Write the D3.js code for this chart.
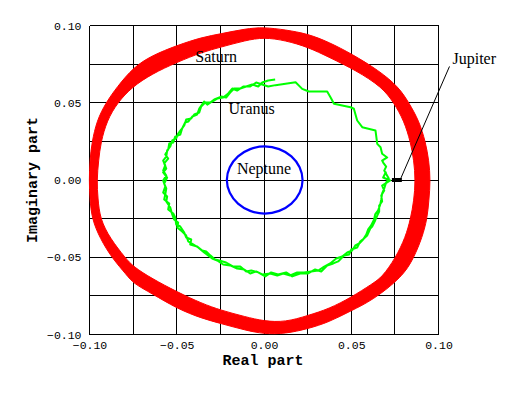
<!DOCTYPE html>
<html><head><meta charset="utf-8">
<script src="https://cdn.jsdelivr.net/npm/d3@7/dist/d3.min.js"></script>
<style>body{margin:0;background:#fff}</style>
</head><body>
<svg id="chart" width="518" height="393"></svg>
<script>
// ---------- data ----------
const xTickValues = [-0.10, -0.05, 0.00, 0.05, 0.10];
const yTickValues = [-0.10, -0.05, 0.00, 0.05, 0.10];
const gridValues = [-0.1, -0.075, -0.05, -0.025, 0, 0.025, 0.05, 0.075, 0.1];

// Saturn: thick band, outer and inner edge [re, im]
const saturnOuter = [
  [-0.1002,-0.0003],[-0.0998,0.0126],[-0.0986,0.0245],[-0.0958,0.0385],[-0.0906,0.0500],
  [-0.0843,0.0601],[-0.0748,0.0730],[-0.0642,0.0806],[-0.0499,0.0871],[-0.0356,0.0924],
  [-0.0247,0.0946],[-0.0108,0.0979],[0.0000,0.0989],[0.0123,0.0972],[0.0252,0.0946],
  [0.0372,0.0892],[0.0501,0.0817],[0.0658,0.0709],[0.0773,0.0601],[0.0830,0.0500],
  [0.0888,0.0385],[0.0926,0.0245],[0.0945,0.0126],[0.0954,-0.0003],[0.0945,-0.0133],
  [0.0935,-0.0251],[0.0907,-0.0370],[0.0859,-0.0504],[0.0792,-0.0629],[0.0620,-0.0780],
  [0.0501,-0.0845],[0.0372,-0.0920],[0.0252,-0.0963],[0.0123,-0.0995],[0.0000,-0.0997],
  [-0.0108,-0.0972],[-0.0247,-0.0929],[-0.0356,-0.0896],[-0.0499,-0.0832],[-0.0642,-0.0735],
  [-0.0748,-0.0670],[-0.0786,-0.0616],[-0.0872,-0.0504],[-0.0939,-0.0379],[-0.0986,-0.0254],
  [-0.0998,-0.0120]
];
const saturnInner = [
  [-0.0958,-0.0003],[-0.0948,0.0126],[-0.0935,0.0245],[-0.0900,0.0385],[-0.0840,0.0500],
  [-0.0757,0.0601],[-0.0642,0.0687],[-0.0499,0.0762],[-0.0356,0.0827],[-0.0247,0.0860],
  [-0.0108,0.0903],[0.0000,0.0924],[0.0123,0.0903],[0.0252,0.0860],[0.0372,0.0795],
  [0.0528,0.0709],[0.0677,0.0601],[0.0744,0.0500],[0.0802,0.0385],[0.0840,0.0245],
  [0.0859,0.0126],[0.0868,-0.0003],[0.0859,-0.0133],[0.0840,-0.0251],[0.0811,-0.0370],
  [0.0754,-0.0504],[0.0677,-0.0629],[0.0620,-0.0672],[0.0501,-0.0759],[0.0372,-0.0834],
  [0.0252,-0.0877],[0.0123,-0.0920],[0.0000,-0.0914],[-0.0108,-0.0885],[-0.0247,-0.0843],
  [-0.0356,-0.0799],[-0.0499,-0.0724],[-0.0642,-0.0638],[-0.0748,-0.0562],[-0.0795,-0.0504],
  [-0.0881,-0.0379],[-0.0939,-0.0254],[-0.0952,-0.0120]
];

// Uranus: wobbly path with retrograde loops [re, im]
const uranus = [
  [0.0064,0.0650],[0.0024,0.0644],[-0.0010,0.0631],[-0.0033,0.0605],[-0.0068,0.0618],
  [-0.0102,0.0605],[-0.0136,0.0592],[-0.0171,0.0592],[-0.0194,0.0566],[-0.0217,0.0534],
  [-0.0245,0.0540],[-0.0285,0.0521],[-0.0308,0.0501],[-0.0337,0.0501],[-0.0360,0.0476],
  [-0.0371,0.0437],[-0.0400,0.0424],[-0.0417,0.0398],[-0.0446,0.0391],[-0.0457,0.0353],
  [-0.0474,0.0327],[-0.0492,0.0301],[-0.0503,0.0269],[-0.0526,0.0256],[-0.0537,0.0217],
  [-0.0555,0.0191],[-0.0560,0.0152],[-0.0578,0.0126],[-0.0566,0.0094],[-0.0578,0.0061],
  [-0.0560,0.0029],[-0.0578,-0.0003],[-0.0566,-0.0042],[-0.0578,-0.0081],[-0.0555,-0.0107],
  [-0.0560,-0.0139],[-0.0537,-0.0178],[-0.0526,-0.0223],[-0.0515,-0.0256],[-0.0492,-0.0275],
  [-0.0497,-0.0307],[-0.0469,-0.0333],[-0.0446,-0.0359],[-0.0434,-0.0398],[-0.0406,-0.0417],
  [-0.0377,-0.0437],[-0.0343,-0.0469],[-0.0320,-0.0488],[-0.0297,-0.0508],[-0.0268,-0.0521],
  [-0.0234,-0.0547],[-0.0194,-0.0553],[-0.0154,-0.0573],[-0.0113,-0.0579],[-0.0079,-0.0605],
  [-0.0045,-0.0592],[-0.0010,-0.0611],[0.0036,-0.0605],[0.0076,-0.0618],[0.0110,-0.0605],
  [0.0150,-0.0618],[0.0190,-0.0598],[0.0230,-0.0598],[0.0270,-0.0592],[0.0311,-0.0586],
  [0.0345,-0.0560],[0.0379,-0.0540],[0.0414,-0.0508],[0.0448,-0.0495],[0.0477,-0.0469],
  [0.0505,-0.0456],[0.0523,-0.0424],[0.0546,-0.0411],[0.0568,-0.0385],[0.0586,-0.0353],
  [0.0597,-0.0320],[0.0614,-0.0294],[0.0631,-0.0256],[0.0637,-0.0223],[0.0654,-0.0197],
  [0.0666,-0.0159],[0.0672,-0.0126],[0.0677,-0.0087],[0.0689,-0.0055],[0.0700,-0.0016],
  [0.0715,0.0010],[0.0689,0.0061],[0.0700,0.0087],[0.0683,0.0113],[0.0677,0.0126],
  [0.0706,0.0146],[0.0677,0.0170],[0.0668,0.0212],[0.0649,0.0234],[0.0639,0.0320],
  [0.0563,0.0342],[0.0534,0.0385],[0.0515,0.0461],[0.0496,0.0471],[0.0401,0.0493],
  [0.0381,0.0536],[0.0362,0.0573],[0.0257,0.0573],[0.0219,0.0590],[0.0181,0.0633],
  [0.0066,0.0614],
  [0.0024,0.0605],[-0.0010,0.0618],[-0.0045,0.0631],[-0.0079,0.0605],[-0.0119,0.0605],
  [-0.0154,0.0579],[-0.0182,0.0592],[-0.0205,0.0560],[-0.0234,0.0534],[-0.0268,0.0527],
  [-0.0297,0.0508],[-0.0325,0.0488],[-0.0343,0.0508],[-0.0371,0.0463],[-0.0383,0.0424],
  [-0.0411,0.0411],[-0.0434,0.0378],[-0.0452,0.0372],[-0.0469,0.0333],[-0.0480,0.0294],
  [-0.0509,0.0281],[-0.0520,0.0243],[-0.0543,0.0236],[-0.0549,0.0197],[-0.0566,0.0165],
  [-0.0549,0.0139],[-0.0572,0.0107],[-0.0560,0.0074],[-0.0578,0.0049],[-0.0555,0.0016],
  [-0.0572,-0.0023],[-0.0560,-0.0055],[-0.0566,-0.0094],[-0.0572,-0.0126],[-0.0543,-0.0152],
  [-0.0549,-0.0191],[-0.0520,-0.0217],[-0.0509,-0.0243],[-0.0503,-0.0288],[-0.0480,-0.0301],
  [-0.0457,-0.0340],[-0.0446,-0.0372],[-0.0417,-0.0385],[-0.0423,-0.0417],[-0.0383,-0.0430],
  [-0.0354,-0.0456],[-0.0331,-0.0463],[-0.0308,-0.0488],[-0.0280,-0.0514],[-0.0257,-0.0521],
  [-0.0217,-0.0534],[-0.0176,-0.0560],[-0.0136,-0.0560],[-0.0102,-0.0592],[-0.0073,-0.0586],
  [-0.0033,-0.0598],[0.0007,-0.0624],[0.0041,-0.0598],[0.0081,-0.0611],[0.0127,-0.0598],
  [0.0162,-0.0624],[0.0207,-0.0605],[0.0253,-0.0605],[0.0293,-0.0579],[0.0328,-0.0592],
  [0.0362,-0.0553],[0.0397,-0.0540],[0.0425,-0.0527],[0.0460,-0.0488],[0.0488,-0.0482],
  [0.0500,-0.0450],[0.0534,-0.0437],[0.0551,-0.0398],[0.0574,-0.0378],[0.0591,-0.0359],
  [0.0609,-0.0314],[0.0620,-0.0301],[0.0637,-0.0262],[0.0649,-0.0230],[0.0660,-0.0204],
  [0.0660,-0.0165],[0.0677,-0.0139],[0.0672,-0.0100],[0.0689,-0.0068],[0.0677,-0.0036],
  [0.0723,-0.0003],[0.0683,0.0016],[0.0700,0.0055]
];

// Neptune: small closed loop [re, im]
const neptune = [
  [0.0221,0.0000],[0.0204,0.0083],[0.0157,0.0153],[0.0087,0.0200],[0.0004,0.0217],
  [-0.0079,0.0200],[-0.0149,0.0153],[-0.0196,0.0083],[-0.0213,0.0000],[-0.0196,-0.0083],
  [-0.0149,-0.0153],[-0.0079,-0.0200],[0.0004,-0.0217],[0.0087,-0.0200],[0.0157,-0.0153],
  [0.0204,-0.0083]
];

// Jupiter: tiny segment near the real axis, plus its label pointer
const jupiter = [[0.0733,0.0000],[0.0790,0.0000]];
const jupiterLeader = [[0.0781,0.0003],[0.1063,0.0735]];

const planetLabels = ["Saturn","Uranus","Neptune","Jupiter"];
const labelRe = [-0.0394,-0.0203,-0.0155,0.1080];
const labelIm = [0.0761,0.0426,0.0039,0.0754];

// ---------- drawing ----------
const svg = d3.select("#chart");
const x = d3.scaleLinear().domain([-0.1,0.1]).range([89.5,438.5]);
const y = d3.scaleLinear().domain([-0.1,0.1]).range([334.5,25.5]);
const fmt = d3.format(".2f");

// grid
const g = svg.append("g");
g.selectAll("line.v").data(gridValues).join("line")
  .attr("x1",d=>x(d)).attr("x2",d=>x(d)).attr("y1",y(-0.1)).attr("y2",y(0.1))
  .attr("stroke","#000").attr("stroke-width",1).attr("shape-rendering","crispEdges");
g.selectAll("line.h").data(gridValues).join("line")
  .attr("y1",d=>y(d)).attr("y2",d=>y(d)).attr("x1",x(-0.1)).attr("x2",x(0.1))
  .attr("stroke","#000").attr("stroke-width",1).attr("shape-rendering","crispEdges");

// tick labels via d3 axes (no tick marks)
const xAxis = d3.axisBottom(x).tickValues(xTickValues).tickFormat(fmt).tickSize(0).tickPadding(6);
const yAxis = d3.axisLeft(y).tickValues(yTickValues).tickFormat(fmt).tickSize(0).tickPadding(8);
const ax = svg.append("g").attr("transform",`translate(0,${y(-0.1)})`).call(xAxis);
const ay = svg.append("g").attr("transform",`translate(${x(-0.1)},0)`).call(yAxis);
[ax,ay].forEach(a=>{
  a.select(".domain").remove();
  a.selectAll("text").attr("font-family","'Liberation Mono', monospace").attr("font-size",11.5).attr("fill","#000");
});

// Saturn band (smoothed edges)
const closed = d3.line().x(d=>x(d[0])).y(d=>y(d[1])).curve(d3.curveBasisClosed);
svg.append("path")
  .attr("d", closed(saturnOuter) + closed(saturnInner))
  .attr("fill","#ff0000").attr("fill-rule","evenodd")
  .attr("stroke","#ff0000").attr("stroke-width",1);

// Uranus
svg.append("path")
  .attr("d", d3.line().x(d=>x(d[0])).y(d=>y(d[1]))(uranus))
  .attr("fill","none").attr("stroke","#00ff00").attr("stroke-width",2).attr("stroke-linejoin","round");

// Neptune
svg.append("path")
  .attr("d", d3.line().x(d=>x(d[0])).y(d=>y(d[1])).curve(d3.curveCardinalClosed)(neptune))
  .attr("fill","none").attr("stroke","#0000ff").attr("stroke-width",2.2);

// Jupiter
svg.append("path")
  .attr("d", d3.line().x(d=>x(d[0])).y(d=>y(d[1]))(jupiter))
  .attr("stroke","#000").attr("stroke-width",4);
svg.append("path")
  .attr("d", d3.line().x(d=>x(d[0])).y(d=>y(d[1]))(jupiterLeader))
  .attr("stroke","#000").attr("stroke-width",1);

// planet labels
svg.selectAll("text.planet").data(planetLabels).join("text")
  .attr("class","planet")
  .attr("x",(d,i)=>x(labelRe[i])).attr("y",(d,i)=>y(labelIm[i]))
  .attr("font-family","'Liberation Serif', 'Times New Roman', serif")
  .attr("font-size",16).attr("fill","#000").text(d=>d);

// axis titles
svg.append("text").attr("x",263).attr("y",365).attr("text-anchor","middle")
  .attr("font-family","'Liberation Mono', monospace").attr("font-weight","bold").attr("font-size",15)
  .text("Real part");
svg.append("text").attr("transform","translate(37,180) rotate(-90)").attr("text-anchor","middle")
  .attr("font-family","'Liberation Mono', monospace").attr("font-weight","bold").attr("font-size",15)
  .text("Imaginary part");
</script>
</body></html>
